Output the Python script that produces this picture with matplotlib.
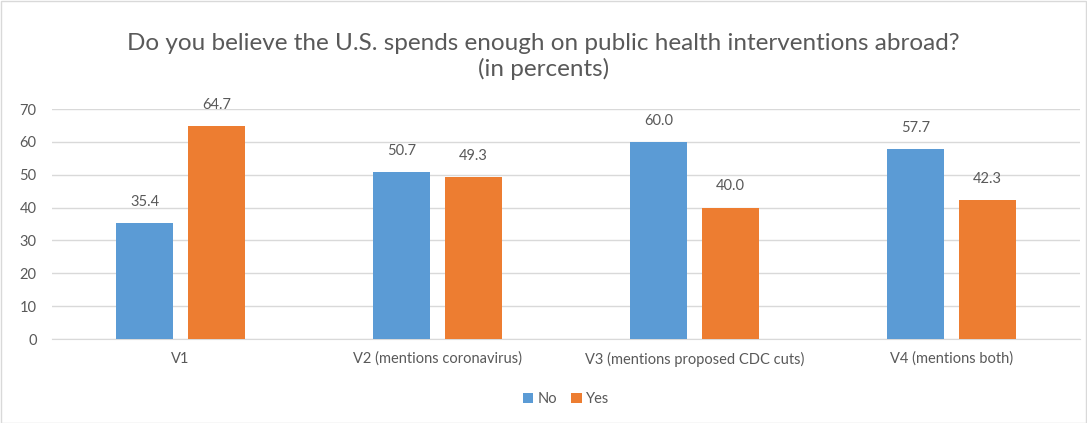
import matplotlib
matplotlib.use("Agg")
import matplotlib.pyplot as plt
import numpy as np
from matplotlib.patches import Rectangle

categories = ["V1", "V2 (mentions coronavirus)", "V3 (mentions proposed CDC cuts)", "V4 (mentions both)"]
no_vals = [35.4, 50.7, 60.0, 57.7]
yes_vals = [64.7, 49.3, 40.0, 42.3]
yticks = [0, 10, 20, 30, 40, 50, 60, 70]

plt.rcParams['font.family'] = ['Lato', 'DejaVu Sans']
txt = '#595959'
blue = '#5B9BD5'
orange = '#ED7D31'

fig = plt.figure(figsize=(10.87, 4.23), dpi=100)
ax = fig.add_axes([52/1087, 1-339/423, (1080-52)/1087, (339-109)/423])

x = np.arange(len(categories))
w = 0.222
off = 0.14
ax.bar(x - off, no_vals, w, color=blue, label='No', zorder=3)
ax.bar(x + off, yes_vals, w, color=orange, label='Yes', zorder=3)
for xi, v in zip(x - off, no_vals):
    ax.text(xi, v + 4.3, f"{v:.1f}", ha='center', va='bottom', fontsize=10.5, color=txt)
for xi, v in zip(x + off, yes_vals):
    ax.text(xi, v + 4.3, f"{v:.1f}", ha='center', va='bottom', fontsize=10.5, color=txt)

ax.set_xlim(-0.5, 3.5)
ax.set_ylim(0, 70)
ax.set_yticks(yticks)
ax.set_xticks(x)
ax.set_xticklabels(categories)
ax.grid(axis='y', color='#D9D9D9', linewidth=1, zorder=0)
for s in ['top', 'right', 'left']:
    ax.spines[s].set_visible(False)
ax.spines['bottom'].set_color('#D9D9D9')
ax.tick_params(axis='both', length=0, labelsize=10.5, labelcolor=txt)
ax.tick_params(axis='y', pad=11)
ax.tick_params(axis='x', pad=9)

fig.suptitle("Do you believe the U.S. spends enough on public health interventions abroad?\n(in percents)",
             x=0.5, y=1-33/423, va='top', fontsize=17.5, color=txt, linespacing=1.2)

ax.legend(loc='upper center', bbox_to_anchor=(0.5, -0.175), ncol=2, frameon=False,
          fontsize=10.5, labelcolor=txt, handlelength=0.7, handleheight=0.7,
          handletextpad=0.3, columnspacing=1.0)

fig.patches.append(Rectangle((0.5/1087, 0.5/423), 1-1.5/1087, 1-1.5/423, transform=fig.transFigure,
                             fill=False, edgecolor='#D9D9D9', linewidth=1))

fig.savefig('out.png', dpi=100)
